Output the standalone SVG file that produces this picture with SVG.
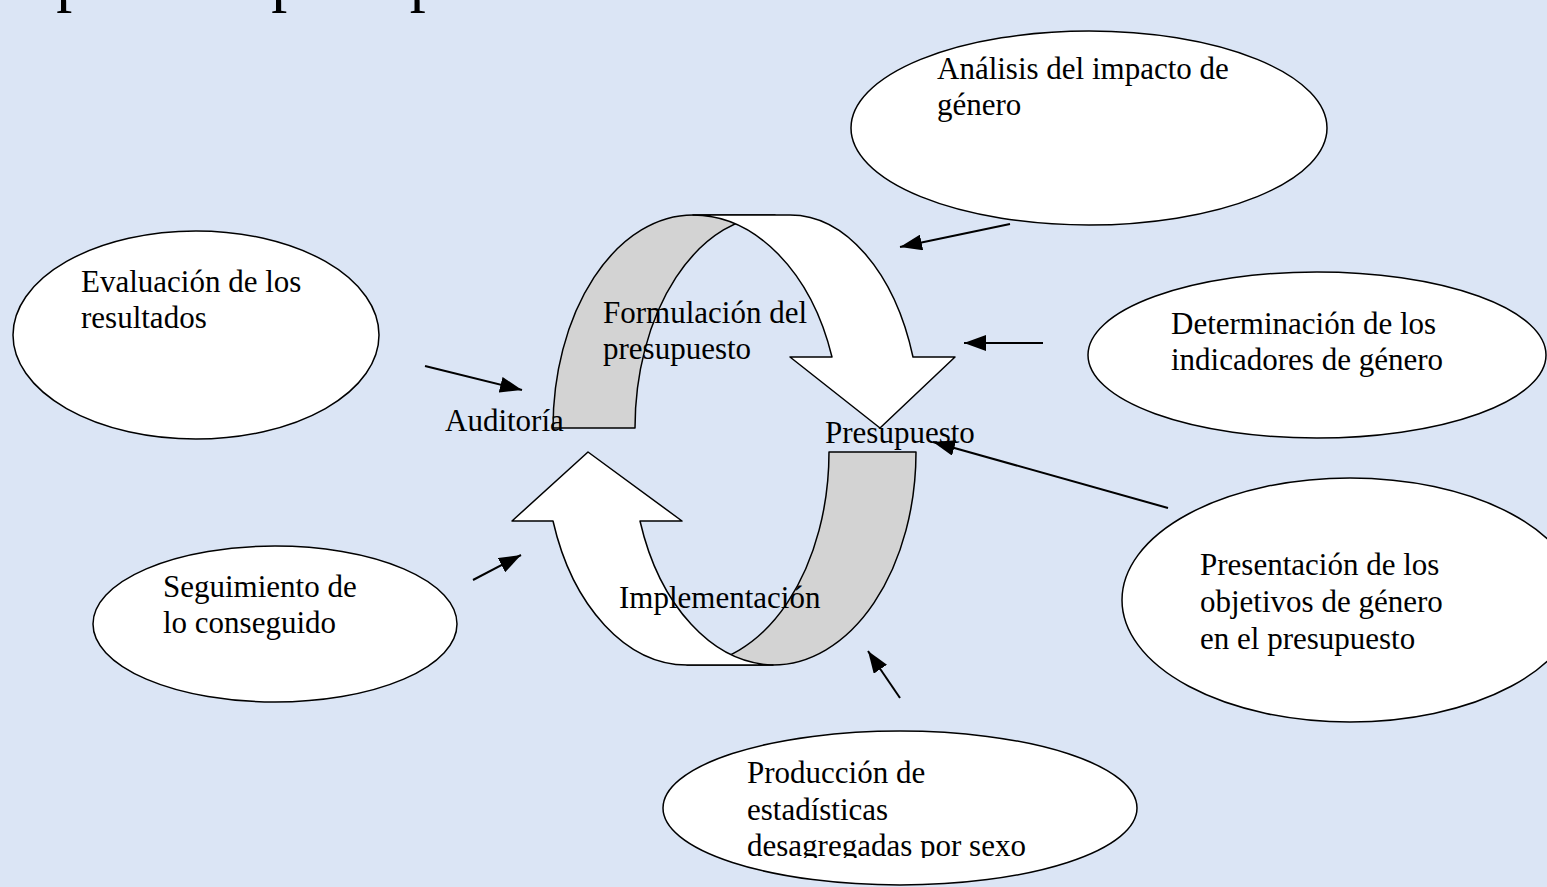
<svg xmlns="http://www.w3.org/2000/svg" width="1547" height="887" viewBox="0 0 1547 887">
  <defs>
    <style>
      .bg { fill: #dbe5f5; }
      .node { fill: #ffffff; stroke: #000000; stroke-width: 1.5; }
      .txt { font-family: "Liberation Serif", "Times New Roman", serif; font-size: 31px; fill: #000000; }
      .title { font-family: "Liberation Serif", "Times New Roman", serif; font-size: 64px; fill: #000000; }
      .back { fill: #d3d3d3; stroke: #000000; stroke-width: 1.5; stroke-linejoin: round; }
      .front { fill: #ffffff; stroke: #000000; stroke-width: 1.5; stroke-linejoin: round; }
      .conn { stroke: #000000; stroke-width: 2; fill: none; }
    </style>
    <marker id="ah" viewBox="0 0 22 16" refX="22" refY="8" markerWidth="22" markerHeight="16" markerUnits="userSpaceOnUse" orient="auto">
      <path d="M0,0 L22,8 L0,16 Z" fill="#000000"/>
    </marker>
    <clipPath id="clipProd">
      <rect x="600" y="700" width="600" height="158"/>
    </clipPath>
  </defs>

  <rect class="bg" x="0" y="0" width="1547" height="887"/>

  <text class="title" x="-6" y="-1">el proceso presupuestario</text>

  <g id="cycle-top">
    <path class="back" d="M553,428 A140,213 0 0 1 693,215 L775,215 A140,213 0 0 0 635,428 Z"/>
    <path class="front" d="M693,215 L790,215 A130.4,213 0 0 1 913,357 L955,357 L880,428 L790,357 L832,357 A147.4,213 0 0 0 693,215 Z"/>
  </g>
  <g id="cycle-bottom">
    <path class="back" d="M916,452 A143,213 0 0 1 773,665 L687,665 A142,213 0 0 0 829,452 Z"/>
    <path class="front" d="M687,665 A142,213 0 0 1 553,521 L512,521 L588,452 L682,521 L640,521 A143,213 0 0 0 773,665 Z"/>
  </g>

  <g id="label-formulacion">
    <text class="txt" x="603" y="323">Formulación del</text>
    <text class="txt" x="603" y="359">presupuesto</text>
  </g>
  <g id="label-auditoria">
    <text class="txt" x="445" y="431">Auditoría</text>
  </g>
  <g id="label-presupuesto">
    <text class="txt" x="825" y="443">Presupuesto</text>
  </g>
  <g id="label-implementacion">
    <text class="txt" x="619" y="608">Implementación</text>
  </g>

  <g id="node-analisis">
    <ellipse class="node" cx="1089" cy="128" rx="238" ry="97"/>
    <text class="txt" x="937" y="79">Análisis del impacto de</text>
    <text class="txt" x="937" y="115">género</text>
  </g>
  <g id="node-evaluacion">
    <ellipse class="node" cx="196" cy="335" rx="183" ry="104"/>
    <text class="txt" x="81" y="292">Evaluación de los</text>
    <text class="txt" x="81" y="328">resultados</text>
  </g>
  <g id="node-determinacion">
    <ellipse class="node" cx="1317" cy="355" rx="229" ry="83"/>
    <text class="txt" x="1171" y="334">Determinación de los</text>
    <text class="txt" x="1171" y="370">indicadores de género</text>
  </g>
  <g id="node-presentacion">
    <ellipse class="node" cx="1350" cy="600" rx="228" ry="122"/>
    <text class="txt" x="1200" y="575">Presentación de los</text>
    <text class="txt" x="1200" y="612">objetivos de género</text>
    <text class="txt" x="1200" y="649">en el presupuesto</text>
  </g>
  <g id="node-seguimiento">
    <ellipse class="node" cx="275" cy="624" rx="182" ry="78"/>
    <text class="txt" x="163" y="597">Seguimiento de</text>
    <text class="txt" x="163" y="633">lo conseguido</text>
  </g>
  <g id="node-produccion">
    <ellipse class="node" cx="900" cy="808" rx="237" ry="77"/>
    <g clip-path="url(#clipProd)">
      <text class="txt" x="747" y="783">Producción de</text>
      <text class="txt" x="747" y="820">estadísticas</text>
      <text class="txt" x="747" y="856">desagregadas por sexo</text>
    </g>
  </g>

  <g id="connectors">
    <line class="conn" x1="1010" y1="224" x2="900" y2="247" marker-end="url(#ah)"/>
    <line class="conn" x1="1043" y1="343" x2="964" y2="343" marker-end="url(#ah)"/>
    <line class="conn" x1="1168" y1="508" x2="933" y2="442" marker-end="url(#ah)"/>
    <line class="conn" x1="900" y1="698" x2="868" y2="651" marker-end="url(#ah)"/>
    <line class="conn" x1="473" y1="580" x2="521" y2="555" marker-end="url(#ah)"/>
    <line class="conn" x1="425" y1="366" x2="522" y2="390" marker-end="url(#ah)"/>
  </g>
</svg>
